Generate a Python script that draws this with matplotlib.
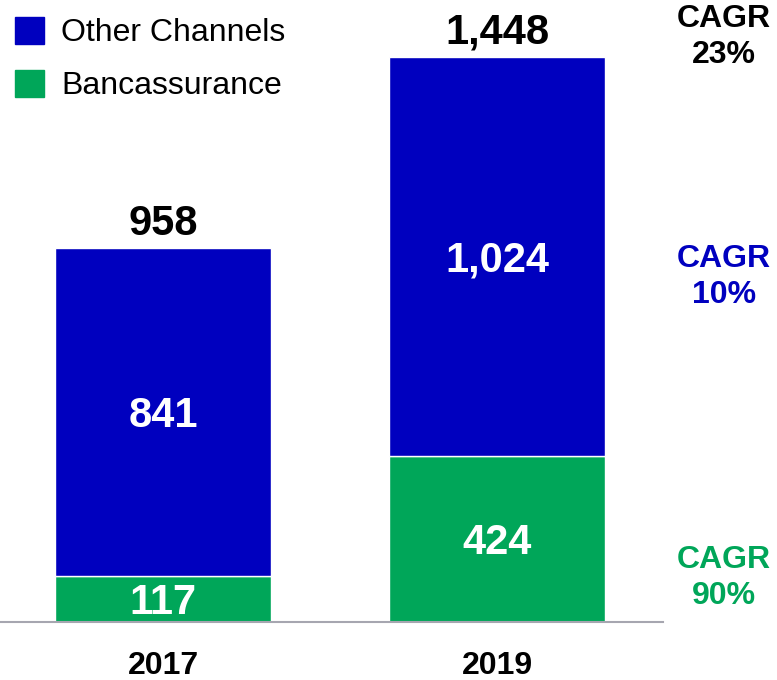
import numpy as np
import matplotlib.pyplot as plt
from matplotlib.patches import Patch

plt.rcParams['font.family'] = ['Liberation Sans', 'DejaVu Sans']

# data
years = ['2017', '2019']
banca = [117, 424]
other = [841, 1024]
totals = [958, 1448]
cagr_labels = ['CAGR\n23%', 'CAGR\n10%', 'CAGR\n90%']

BLUE = '#0000BF'
GREEN = '#00A659'

fig = plt.figure(figsize=(7.77, 6.8), dpi=100)
ax = fig.add_axes([0, 58/680, 663/777, 622/680])

x = np.arange(len(years))
w = 0.647
ax.bar(x, banca, w, color=GREEN, edgecolor='white', linewidth=1)
ax.bar(x, other, w, bottom=banca, color=BLUE, edgecolor='white', linewidth=1)

ax.set_xlim(-0.488, 1.497)
ax.set_ylim(0, 1593)

# segment labels
for i in range(len(years)):
    ax.annotate(f'{banca[i]:,}', (x[i], banca[i] / 2), xytext=(0, -10.8),
                textcoords='offset points', ha='center', va='baseline',
                color='white', fontsize=30, fontweight='bold')
    ax.annotate(f'{other[i]:,}', (x[i], banca[i] + other[i] / 2), xytext=(0, -10.8),
                textcoords='offset points', ha='center', va='baseline',
                color='white', fontsize=30, fontweight='bold')
    ax.annotate(f'{totals[i]:,}', (x[i], totals[i]), xytext=(0, 9.5),
                textcoords='offset points', ha='center', va='baseline',
                color='black', fontsize=30, fontweight='bold')

# axis styling
for s in ['top', 'right', 'left']:
    ax.spines[s].set_visible(False)
ax.spines['bottom'].set_color('#A6A6B0')
ax.spines['bottom'].set_linewidth(1.5)
ax.set_yticks([])
ax.set_xticks(x)
ax.set_xticklabels(years, fontsize=23, fontweight='bold')
ax.tick_params(axis='x', length=0, pad=21)

# CAGR notes
cagr_y = [37, 277, 578]
cagr_col = ['black', BLUE, GREEN]
for lab, yy, c in zip(cagr_labels, cagr_y, cagr_col):
    fig.text(724/777, 1 - yy/680, lab, ha='center', va='center', color=c,
             fontsize=23, fontweight='bold', linespacing=1.3)

# legend
handles = [Patch(color=BLUE), Patch(color=GREEN)]
fig.legend(handles, ['Other Channels', 'Bancassurance'], loc='upper left',
           bbox_to_anchor=(15/777, 1 - 17/680), frameon=False, fontsize=23,
           handlelength=0.9, handleheight=0.9, handletextpad=0.55,
           labelspacing=0.68, borderpad=0, borderaxespad=0)

plt.savefig('out.png', dpi=100)
